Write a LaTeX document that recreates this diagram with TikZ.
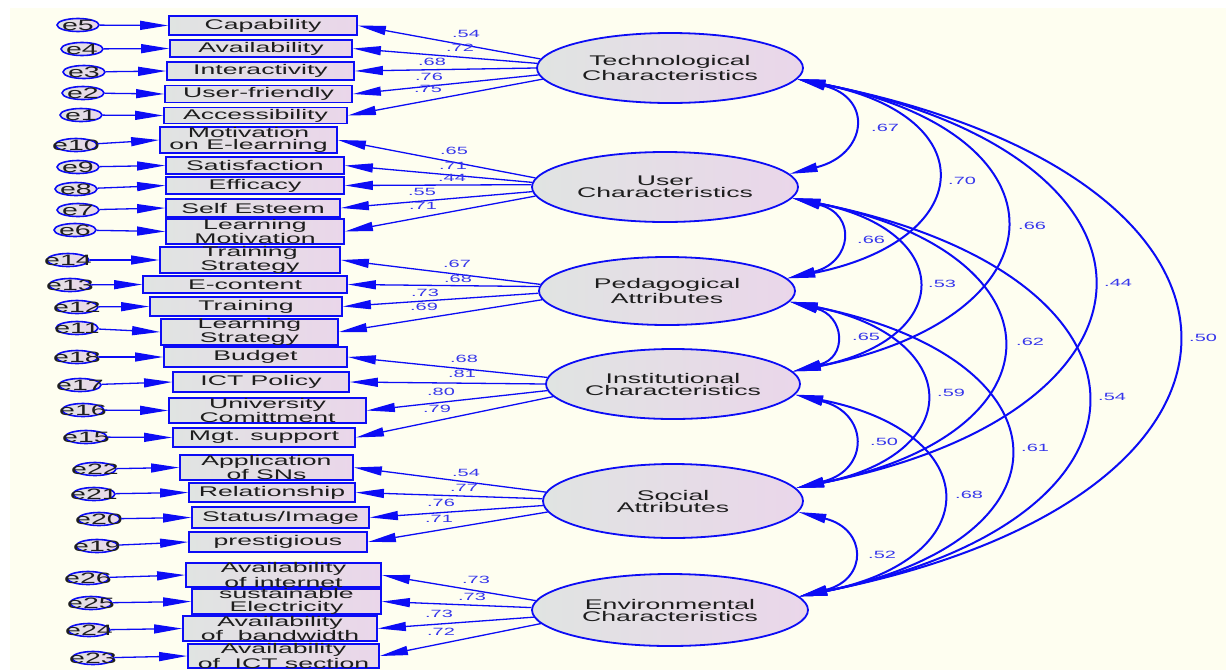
\documentclass[tikz,border=0pt]{standalone}
\usepackage{fontspec}
\newfontfamily\amos{Liberation Sans}[FakeStretch=1.9]
\usetikzlibrary{arrows.meta,shapes.geometric}
\definecolor{paper}{RGB}{254,254,240}
\definecolor{amblue}{RGB}{12,12,245}
\definecolor{numblue}{RGB}{55,55,235}
\definecolor{fillL}{RGB}{224,228,226}
\definecolor{fillR}{RGB}{234,214,234}
\definecolor{ink}{RGB}{30,30,30}
% observed variable: name, x, y, width, height, text
\newcommand\obsvar[6]{\node[ind, minimum width=#4pt, minimum height=#5pt] (#1) at (#2,#3) {#6};}
% residual ellipse with its arrow into the observed variable
\newcommand\resvar[4]{\node[err, label={[errtxt]center:#4}] (r#1) at (#2,#3) {};
  \draw[resid] (r#1) -- (#1.west);}
\begin{document}
\begin{tikzpicture}[x=1pt,y=-1pt,
  >={Triangle[length=28pt,width=9pt]},
  ind/.style={rectangle, draw=amblue, line width=1.8pt, left color=fillL, right color=fillR,
    inner sep=0pt, align=center, text=ink, font=\amos\fontsize{14}{12.5}\selectfont},
  lat/.style={ellipse, draw=amblue, line width=1.8pt, left color=fillL, right color=fillR,
    inner sep=0pt, align=center, text=ink, font=\amos\fontsize{14}{12}\selectfont},
  err/.style={ellipse, draw=amblue, line width=1.6pt, left color=fillL, right color=fillR,
    inner sep=0pt, minimum width=42pt, minimum height=13pt},
  errtxt/.style={inner sep=0pt, text=ink, font=\amos\fontsize{15}{15}\selectfont},
  resid/.style={draw=amblue, line width=1.3pt, ->},
  load/.style={draw=amblue, line width=1.3pt, ->},
  cov/.style={draw=amblue, line width=2pt, <->},
  coef/.style={text=numblue, inner sep=0pt, font=\amos\fontsize{10.5}{10.5}\selectfont},
]
\useasboundingbox (0,0) rectangle (1226,670);
\fill[white] (0,0) rectangle (1226,670);
\fill[paper] (10,8) rectangle (1226,670);

% latent factors
\node[lat, minimum width=266pt, minimum height=70pt] (tech) at (670,68) {Technological\\Characteristics};
\node[lat, minimum width=266pt, minimum height=70pt] (user) at (665,187) {User\\Characteristics};
\node[lat, minimum width=256pt, minimum height=68pt] (ped) at (667,291) {Pedagogical\\Attributes};
\node[lat, minimum width=254pt, minimum height=70pt] (inst) at (673,384) {Institutional\\Characteristics};
\node[lat, minimum width=260pt, minimum height=74pt] (soc) at (673,501) {Social\\Attributes};
\node[lat, minimum width=276pt, minimum height=72pt] (env) at (670,610) {Environmental\\Characteristics};

% observed variables
\obsvar{cap}{263}{25.5}{188}{19}{Capability}
\obsvar{avail}{261}{48.5}{182}{17}{Availability}
\obsvar{inter}{260.5}{71}{187}{18}{Interactivity}
\obsvar{userf}{258.5}{94}{187}{17}{User-friendly}
\obsvar{access}{255.5}{115.5}{183}{16}{Accessibility}
\obsvar{motiv}{248.5}{140}{177}{24}{Motivation\\on E-learning}
\obsvar{satis}{255}{165.5}{178}{17}{Satisfaction}
\obsvar{effic}{255}{185.5}{178}{17}{Efficacy}
\obsvar{selfe}{253}{208}{174}{18}{Self Esteem}
\obsvar{lmot}{255}{231.5}{178}{23}{Learning\\Motivation}
\obsvar{tstrat}{250}{260}{180}{24}{Training\\Strategy}
\obsvar{econt}{245}{284.5}{204}{17}{E-content}
\obsvar{train}{246}{306.5}{192}{19}{Training}
\obsvar{lstrat}{249.5}{332}{177}{22}{Learning\\Strategy}
\obsvar{budget}{255.5}{357}{183}{20}{Budget}
\obsvar{ictp}{261}{382}{176}{20}{ICT Policy}
\obsvar{univ}{267.5}{410.5}{197}{25}{University\\Comittment}
\obsvar{mgt}{264}{437.5}{182}{19}{Mgt. support}
\obsvar{appl}{266.5}{467.5}{173}{21}{Application\\of SNs}
\obsvar{relat}{272}{492.5}{166}{19}{Relationship}
\obsvar{status}{280.5}{517.5}{177}{21}{Status/Image}
\obsvar{prest}{278}{542}{178}{20}{prestigious}
\obsvar{inet}{283.5}{575}{195}{22}{Availability\\of internet}
\obsvar{elec}{286.5}{601.5}{189}{23}{sustainable\\Electricity}
\obsvar{bandw}{280}{628.5}{194}{21}{Availability\\of \ bandwidth}
\obsvar{ictsec}{283.5}{656}{191}{24}{Availability\\of \ ICT section}

% residuals
\resvar{cap}{78}{25}{e5}
\resvar{avail}{82}{49}{e4}
\resvar{inter}{84}{72}{e3}
\resvar{userf}{83}{93}{e2}
\resvar{access}{81}{115}{e1}
\resvar{motiv}{76}{145}{e10}
\resvar{satis}{78}{167}{e9}
\resvar{effic}{76}{189}{e8}
\resvar{selfe}{78}{210}{e7}
\resvar{lmot}{75}{230}{e6}
\resvar{tstrat}{68}{260}{e14}
\resvar{econt}{70}{285}{e13}
\resvar{train}{77}{307}{e12}
\resvar{lstrat}{77}{328}{e11}
\resvar{budget}{77}{357}{e18}
\resvar{ictp}{80}{385}{e17}
\resvar{univ}{83}{410}{e16}
\resvar{mgt}{86}{437}{e15}
\resvar{appl}{95}{469}{e22}
\resvar{relat}{94}{494}{e21}
\resvar{status}{99}{519}{e20}
\resvar{prest}{97}{546}{e19}
\resvar{inet}{88}{578}{e26}
\resvar{elec}{91}{603}{e25}
\resvar{bandw}{89}{630}{e24}
\resvar{ictsec}{93}{658}{e23}

% factor loadings
\draw[load] (tech.176) -- (cap.east);
\draw[load] (tech.178) -- (avail.east);
\draw[load] (tech.180) -- (inter.east);
\draw[load] (tech.183) -- (userf.east);
\draw[load] (tech.185) -- (access.east);
\draw[load] (user.176) -- (motiv.east);
\draw[load] (user.178) -- (satis.east);
\draw[load] (user.179) -- (effic.east);
\draw[load] (user.182) -- (selfe.east);
\draw[load] (user.184) -- (lmot.east);
\draw[load] (ped.177) -- (tstrat.east);
\draw[load] (ped.178) -- (econt.east);
\draw[load] (ped.181) -- (train.east);
\draw[load] (ped.184) -- (lstrat.east);
\draw[load] (inst.177) -- (budget.east);
\draw[load] (inst.180) -- (ictp.east);
\draw[load] (inst.183) -- (univ.east);
\draw[load] (inst.186) -- (mgt.east);
\draw[load] (soc.176) -- (appl.east);
\draw[load] (soc.179) -- (relat.east);
\draw[load] (soc.182) -- (status.east);
\draw[load] (soc.185) -- (prest.east);
\draw[load] (env.176) -- (inet.east);
\draw[load] (env.179) -- (elec.east);
\draw[load] (env.183) -- (bandw.east);
\draw[load] (env.186) -- (ictsec.east);

% loading estimates
\node[coef] (l1) at (466,34) {.54};
\node[coef] (l2) at (460,48) {.72};
\node[coef] (l3) at (432,62) {.68};
\node[coef] (l4) at (429,77) {.76};
\node[coef] (l5) at (428,89) {.75};
\node[coef] (l6) at (454,151) {.65};
\node[coef] (l7) at (453,166) {.71};
\node[coef] (l8) at (452,178) {.44};
\node[coef] (l9) at (422,192) {.55};
\node[coef] (l10) at (423,206) {.71};
\node[coef] (l11) at (457,264) {.67};
\node[coef] (l12) at (458,279) {.68};
\node[coef] (l13) at (425,293) {.73};
\node[coef] (l14) at (424,307) {.69};
\node[coef] (l15) at (464,359) {.68};
\node[coef] (l16) at (462,374) {.81};
\node[coef] (l17) at (441,392) {.80};
\node[coef] (l18) at (437,409) {.79};
\node[coef] (l19) at (466,473) {.54};
\node[coef] (l20) at (464,488) {.77};
\node[coef] (l21) at (441,503) {.76};
\node[coef] (l22) at (439,519) {.71};
\node[coef] (l23) at (476,580) {.73};
\node[coef] (l24) at (472,597) {.73};
\node[coef] (l25) at (439,614) {.73};
\node[coef] (l26) at (441,632) {.72};

% factor covariances
\draw[cov] (tech.-5) .. controls +(77,19) and +(77,-19) .. (user.6);
\draw[cov] (tech.-5) .. controls +(189,38) and +(189,-38) .. (ped.6);
\draw[cov] (tech.-5) .. controls +(277,55) and +(277,-55) .. (inst.6);
\draw[cov] (tech.-5) .. controls +(391,78) and +(391,-78) .. (soc.6);
\draw[cov] (tech.-5) .. controls +(502,100) and +(502,-100) .. (env.6);
\draw[cov] (user.-5) .. controls +(65,16) and +(65,-16) .. (ped.6);
\draw[cov] (user.-5) .. controls +(163,33) and +(163,-33) .. (inst.6);
\draw[cov] (user.-5) .. controls +(274,55) and +(274,-55) .. (soc.6);
\draw[cov] (user.-5) .. controls +(384,77) and +(384,-77) .. (env.6);
\draw[cov] (ped.-5) .. controls +(55,14) and +(55,-14) .. (inst.6);
\draw[cov] (ped.-5) .. controls +(173,35) and +(173,-35) .. (soc.6);
\draw[cov] (ped.-5) .. controls +(283,57) and +(283,-57) .. (env.6);
\draw[cov] (inst.-5) .. controls +(74,18) and +(74,-18) .. (soc.6);
\draw[cov] (inst.-5) .. controls +(190,38) and +(190,-38) .. (env.6);
\draw[cov] (soc.-5) .. controls +(69,17) and +(69,-17) .. (env.6);

% covariance estimates
\node[coef, anchor=west] (c1) at (871,128) {.67};
\node[coef, anchor=west] (c2) at (948,181) {.70};
\node[coef, anchor=west] (c3) at (1018,226) {.66};
\node[coef, anchor=west] (c4) at (1104,283) {.44};
\node[coef, anchor=west] (c5) at (1189,338) {.50};
\node[coef, anchor=west] (c6) at (857,240) {.66};
\node[coef, anchor=west] (c7) at (928,284) {.53};
\node[coef, anchor=west] (c8) at (1016,342) {.62};
\node[coef, anchor=west] (c9) at (1098,397) {.54};
\node[coef, anchor=west] (c10) at (852,337) {.65};
\node[coef, anchor=west] (c11) at (937,393) {.59};
\node[coef, anchor=west] (c12) at (1021,448) {.61};
\node[coef, anchor=west] (c13) at (870,442) {.50};
\node[coef, anchor=west] (c14) at (955,495) {.68};
\node[coef, anchor=west] (c15) at (868,555) {.52};
\end{tikzpicture}
\end{document}
